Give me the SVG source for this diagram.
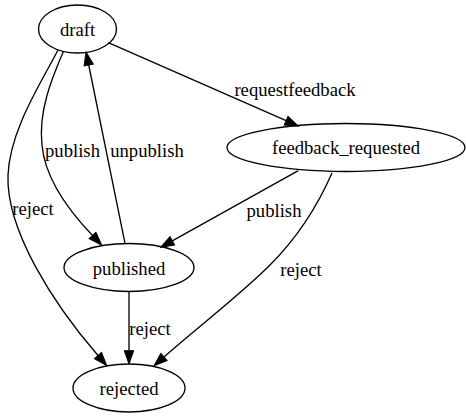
<svg xmlns="http://www.w3.org/2000/svg" width="466" height="419" viewBox="0 0 466 419">
<style>
.n{fill:none;stroke:#000;stroke-width:1.33}
.e{fill:none;stroke:#000;stroke-width:1.33;marker-end:url(#ah)}
.t{font-family:'Liberation Serif','Times New Roman','DejaVu Serif',serif;font-size:18.67px;text-anchor:middle;fill:#000}
</style>
<defs>
<marker id="ah" viewBox="0 0 13.3 10" markerWidth="13.3" markerHeight="10" refX="0" refY="5" orient="auto" markerUnits="userSpaceOnUse" overflow="visible">
<path d="M0,0.3 L13.3,5 L0,9.7 z" fill="#000" stroke="#000" stroke-width="1"/>
</marker>
</defs>
<rect width="466" height="419" fill="#fff"/>
<g id="edges" font-family="Liberation Serif, Times New Roman, serif">
<g id="e_draft_feedback"><path class="e" d="M108.3,42.7 L286.1,120.7"/><text class="t" x="295" y="96">requestfeedback</text></g>
<g id="e_draft_published"><path class="e" d="M63.3,51.7 C53,76 38,110 42,145 C45,180 71,213 92.5,235.5"/><text class="t" x="72.5" y="157">publish</text></g>
<g id="e_published_draft"><path class="e" d="M125,243.3 L88.7,65"/><text class="t" x="147" y="157">unpublish</text></g>
<g id="e_draft_rejected"><path class="e" d="M58,50 C40,85 10,130 8,175 C6,230 53,303.5 98,355.5"/><text class="t" x="33" y="215">reject</text></g>
<g id="e_feedback_published"><path class="e" d="M298.3,170.7 L172.3,240.8"/><text class="t" x="274" y="216.5">publish</text></g>
<g id="e_feedback_rejected"><path class="e" d="M332,173 C318,205 300,235 270,265 C240,295 198,327 164,357"/><text class="t" x="301" y="276">reject</text></g>
<g id="e_published_rejected"><path class="e" d="M129,291.7 L129,350.7"/><text class="t" x="150" y="335">reject</text></g>
</g>
<g id="draft"><ellipse class="n" cx="77.5" cy="29" rx="39" ry="24"/><text class="t" x="77.5" y="35.5">draft</text></g>
<g id="feedback_requested"><ellipse class="n" cx="346" cy="147.5" rx="119" ry="24"/><text class="t" x="346" y="154">feedback_requested</text></g>
<g id="published"><ellipse class="n" cx="129" cy="267.5" rx="65" ry="24"/><text class="t" x="129" y="274.5">published</text></g>
<g id="rejected"><ellipse class="n" cx="129" cy="388" rx="56" ry="24"/><text class="t" x="129" y="395">rejected</text></g>
</svg>
